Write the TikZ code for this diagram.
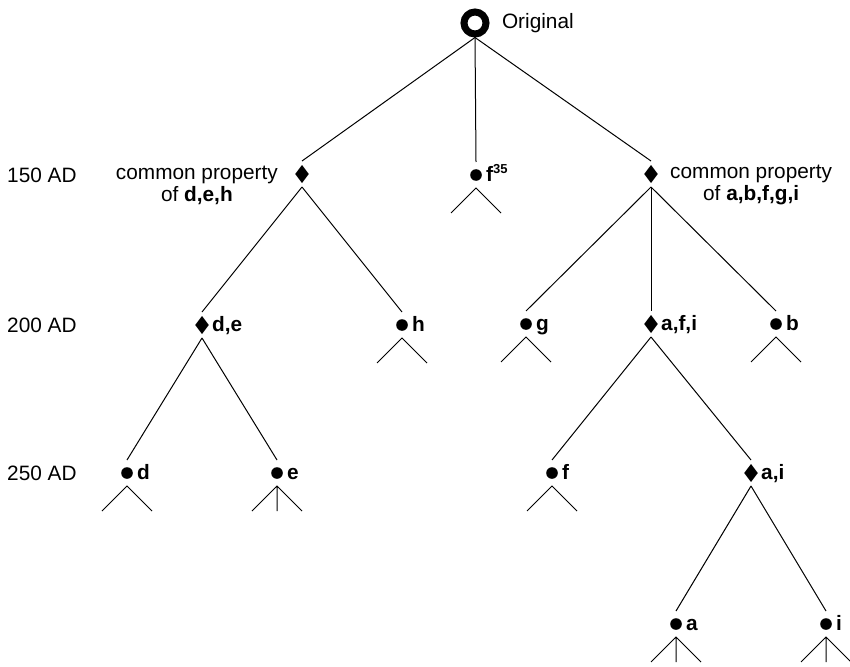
\documentclass[tikz,border=0pt]{standalone}
\usepackage{fontspec}
\setmainfont{Liberation Sans}
\usetikzlibrary{positioning}

\begin{document}
\begin{tikzpicture}[
    x=1pt, y=-1pt,
    font=\fontsize{20.8}{22}\selectfont,
    origin/.style={circle, draw, line width=7pt, minimum size=22pt, inner sep=0pt},
    slot/.style={rectangle, minimum width=26pt, minimum height=26pt, inner sep=0pt, outer sep=0pt},
    dot/.style={slot, path picture={\fill (path picture bounding box.center) circle (5.8pt);}},
    split/.style={slot, path picture={\fill ([yshift=9pt]path picture bounding box.center) -- ++(6.8pt,-9pt) -- ++(-6.8pt,-9pt) -- ++(-6.8pt,9pt) -- cycle;}},
    tag/.style={font=\fontsize{20.8}{22}\selectfont\bfseries, inner sep=0pt, text height=0.8em, text depth=0.12em, label distance=-3pt, yshift=-3pt},
    tagged/.style={label={[tag]right:#1}},
    note/.style={align=center, inner sep=2pt},
    era/.style={anchor=west, inner sep=0pt},
    link/.style={line width=1pt},
    fork/.pic={\draw[link] (-25,25) -- (0,0) -- (25,25);},
    fork3/.pic={\draw[link] (-25,25) -- (0,0) -- (25,25) (0,0) -- (0,25);}
]
\useasboundingbox (0,0) rectangle (850,666);

% Original
\node[origin, label={[label distance=9pt]right:Original}] (orig) at (475,23) {};

% Dates
\node[era] (y150) at (7,175) {150 AD};
\node[era] (y200) at (7,325) {200 AD};
\node[era] (y250) at (7,473) {250 AD};

% 150 AD
\node[split] (pl) at (302,174) {};
\node[dot, tagged={f\raisebox{8pt}{\fontsize{13}{13}\selectfont 35}}] (f35) at (476,175) {};
\node[split] (pr) at (651,174) {};
\node[note, left=9pt of pl, yshift=-11pt] (notel) {common property\\of \textbf{d,e,h}};
\node[note, right=4pt of pr, yshift=-11pt] (noter) {common property\\of \textbf{a,b,f,g,i}};

% 200 AD
\node[split, tagged={d,e}] (de) at (202,325) {};
\node[dot, tagged=h] (h) at (402,325) {};
\node[dot, tagged=g] (g) at (526,324) {};
\node[split, tagged={a,f,i}] (afi) at (651,324) {};
\node[dot, tagged=b] (b) at (776,324) {};

% 250 AD
\node[dot, tagged=d] (d) at (127,473) {};
\node[dot, tagged=e] (e) at (277,473) {};
\node[dot, tagged=f] (f) at (552,473) {};
\node[split, tagged={a,i}] (ai) at (751,473) {};

% last copies
\node[dot, tagged=a] (a) at (676,624) {};
\node[dot, tagged=i] (i) at (826,624) {};

% Lines of descent
\foreach \p/\c in {orig/pl, orig/f35, orig/pr, pl/de, pl/h, pr/g, pr/afi, pr/b,
                   de/d, de/e, afi/f, afi/ai, ai/a, ai/i}
  \draw[link] (\p.south) -- (\c.north);

% Lost descendants
\foreach \n in {f35, h, g, b, d, f}
  \pic at (\n.south) {fork};
\foreach \n in {e, a, i}
  \pic at (\n.south) {fork3};

\end{tikzpicture}
\end{document}
